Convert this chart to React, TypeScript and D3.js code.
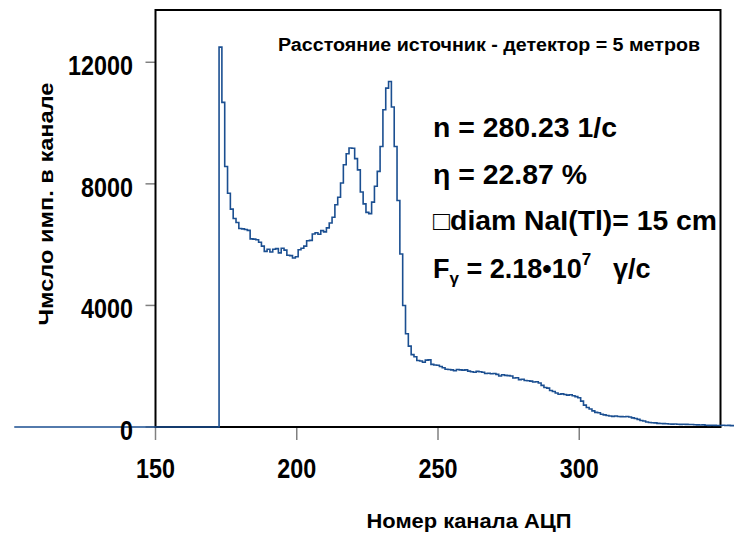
import React from 'react';
import * as d3 from 'd3';

// ---- data ----
const zeroRunChannels = [100, 172];
const zeroRunCounts = [0, 0];
const firstChannel = 173;
const counts = [
  12500, 10680, 8570, 7690, 7170, 6860, 6730, 6530, 6520, 6500,
  6470, 6190, 6180, 6160, 6080, 5950, 5780, 5850, 5760, 5850,
  5870, 5730, 5880, 5820, 5650, 5640, 5560, 5600, 5830, 5880,
  5950, 6130, 6140, 6350, 6390, 6340, 6460, 6420, 6550, 6710,
  6900, 7310, 7560, 8030, 8630, 8990, 9180, 9170, 8830, 8460,
  7730, 7340, 7060, 7020, 7400, 7920, 8410, 9230, 10440, 11150,
  11370, 10530, 9230, 7450, 5690, 4000, 3070, 2660, 2380, 2310,
  2190,
  2170, 2130, 2200, 2210, 2060, 2040, 2030, 1990, 1950, 1900,
  1890, 1880, 1850, 1890, 1880, 1870, 1880, 1840, 1820, 1800,
  1830, 1820, 1800, 1760, 1770, 1750, 1760, 1730, 1680, 1720,
  1700, 1690, 1680, 1610, 1620, 1560, 1570, 1530, 1520, 1510,
  1480, 1490, 1450, 1370, 1300, 1280, 1200, 1170, 1120, 1080,
  1090, 1070, 1050, 1060, 1030, 1000, 960, 850, 720, 640,
  590, 530, 480, 470, 420, 400, 380, 360, 350, 360,
  345, 340, 335, 345, 330, 300, 280, 250, 215, 195,
  165, 150, 140, 135, 120, 115, 110, 105, 100, 95,
  100, 90, 85, 90, 85, 80, 80, 75, 70, 65,
  70, 60, 55, 60, 55, 50, 50, 60, 50, 55,
  45, 40,
];
const xTicks = [150, 200, 250, 300];
const yTicks = [0, 4000, 8000, 12000];
const xDomain = [150, 350];
const yDomain = [0, 13720];
const titleText = 'Расстояние источник - детектор = 5 метров';
const xLabel = 'Номер канала АЦП';
const yLabel = 'Чмсло имп. в канале';
const statLines = ['n = 280.23 1/c', 'η = 22.87 %', '□diam NaI(Tl)= 15 cm'];

const FONT = '"Liberation Sans", Arial, Helvetica, sans-serif';

export default function App() {
  const W = 734;
  const H = 535;
  const left = 155.5, right = 720.5, top = 10, bottom = 427;
  const x = d3.scaleLinear().domain(xDomain).range([left, right]);
  const y = d3.scaleLinear().domain(yDomain).range([bottom, top]);

  const pts: [number, number][] = [
    ...zeroRunChannels.map((c, i) => [c, zeroRunCounts[i]] as [number, number]),
    ...counts.map((v, i) => [firstChannel + i, v] as [number, number]),
  ];
  const line = d3
    .line<[number, number]>()
    .x((d) => x(d[0]))
    .y((d) => y(d[1]))
    .curve(d3.curveStep);
  const path = line(pts) || '';

  const statLengths = [184, 154, 284];
  const statBaselines = [137, 184, 230];
  const digitW = 13;

  return (
    <svg
      width={W}
      height={H}
      style={{ position: 'absolute', left: 0, top: 0, background: '#fff' }}
      fontFamily={FONT}
      fontWeight="bold"
    >
      <rect x={0} y={0} width={W} height={H} fill="#fff" />
      {/* ticks */}
      {yTicks.map((t) => (
        <line key={'yt' + t} x1={left - 10} x2={left} y1={y(t)} y2={y(t)} stroke="#808080" strokeWidth={1.5} />
      ))}
      {xTicks.map((t) => (
        <line key={'xt' + t} x1={x(t)} x2={x(t)} y1={bottom} y2={bottom + 13} stroke="#808080" strokeWidth={1.5} />
      ))}
      {/* frame */}
      <rect x={left} y={top} width={right - left} height={bottom - top} fill="none" stroke="#000" strokeWidth={2} />
      {/* data */}
      <path d={path} fill="none" stroke="#1b4f91" strokeWidth={1.6} />
      {/* tick labels */}
      {yTicks.map((t) => (
        <text
          key={'yl' + t}
          x={133}
          y={y(t) + 13}
          textAnchor="end"
          fontSize={27}
          textLength={String(t).length * digitW}
          lengthAdjust="spacingAndGlyphs"
          fill="#000"
        >
          {t}
        </text>
      ))}
      {xTicks.map((t) => (
        <text
          key={'xl' + t}
          x={x(t)}
          y={478}
          textAnchor="middle"
          fontSize={27}
          textLength={String(t).length * digitW}
          lengthAdjust="spacingAndGlyphs"
          fill="#000"
        >
          {t}
        </text>
      ))}
      {/* axis titles */}
      <text x={469} y={528} textAnchor="middle" fontSize={21} textLength={205} lengthAdjust="spacingAndGlyphs" fill="#000">
        {xLabel}
      </text>
      <text
        transform="translate(53,204) rotate(-90)"
        textAnchor="middle"
        fontSize={20}
        textLength={243}
        lengthAdjust="spacingAndGlyphs"
        fill="#000"
      >
        {yLabel}
      </text>
      {/* title */}
      <text x={278} y={51} fontSize={18} textLength={422} lengthAdjust="spacingAndGlyphs" fill="#000">
        {titleText}
      </text>
      {/* stats */}
      {statLines.map((s, i) => (
        <text
          key={'s' + i}
          x={433}
          y={statBaselines[i]}
          fontSize={27}
          textLength={statLengths[i]}
          lengthAdjust="spacingAndGlyphs"
          fill="#000"
        >
          {s}
        </text>
      ))}
      <text x={433} y={278} fontSize={27} fill="#000">
        F
        <tspan fontSize={17} dy={6}>γ</tspan>
        <tspan dy={-6}> = 2.18•10</tspan>
        <tspan fontSize={17} dy={-13}>7</tspan>
        <tspan x={613} dy={13}>γ/c</tspan>
      </text>
    </svg>
  );
}
